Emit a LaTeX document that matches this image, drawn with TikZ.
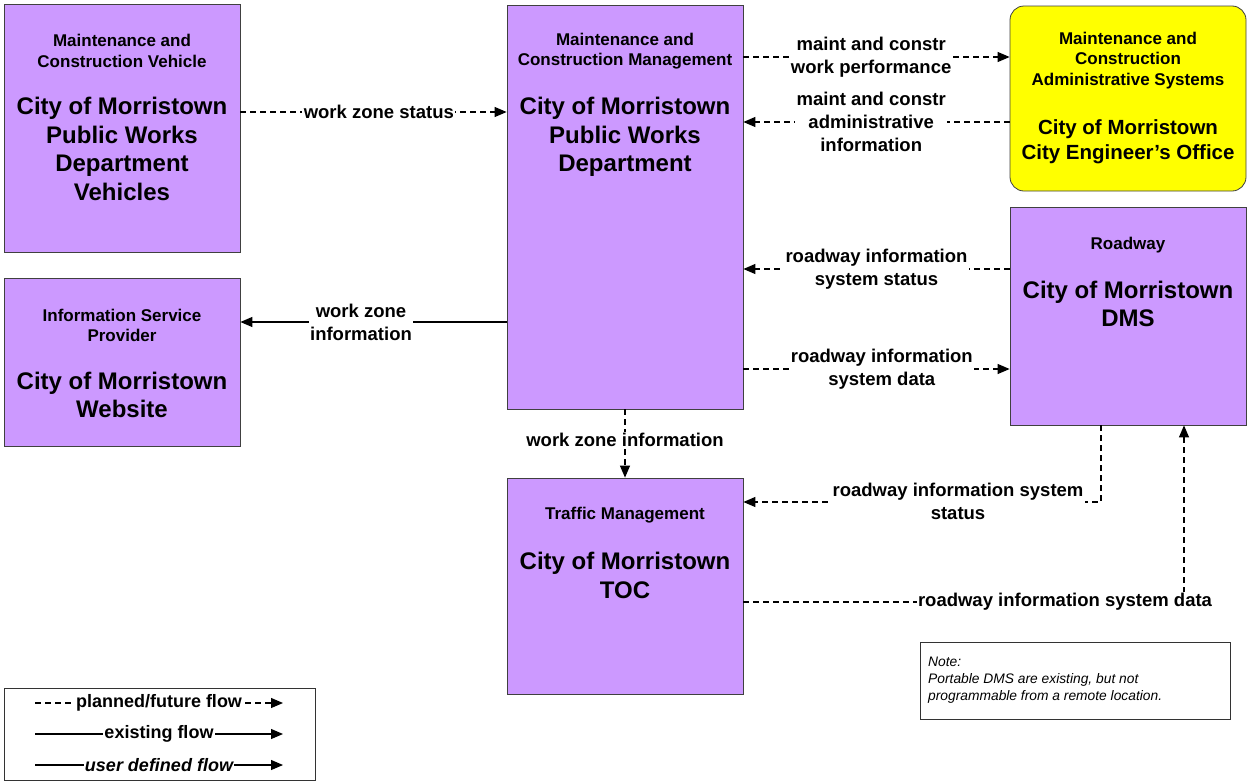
\documentclass[tikz,border=0pt]{standalone}
\usepackage{fontspec}
\setmainfont{Liberation Sans}
\usetikzlibrary{arrows.meta}
\definecolor{boxpurple}{HTML}{CC99FF}
\definecolor{boxyellow}{HTML}{FFFF00}
\begin{document}
\begin{tikzpicture}[x=1pt,y=-1pt,
  sysbox/.style={draw=black!75, line width=0.8pt, fill=boxpurple, minimum width=236pt, inner sep=0pt},
  hdr/.style={font=\fontsize{17}{20.5}\selectfont\bfseries, align=center, inner sep=0pt},
  big/.style={font=\fontsize{24}{28.7}\selectfont\bfseries, align=center, inner sep=0pt},
  lbl/.style={font=\fontsize{18.5}{23}\selectfont\bfseries, align=center, fill=white, inner sep=1.5pt},
  planned/.style={line width=1.2pt, dash pattern=on 6pt off 4pt, -{Triangle[length=12pt,width=10pt]}},
  existing/.style={line width=1.2pt, -{Triangle[length=12pt,width=10pt]}}]
\useasboundingbox (0,0) rectangle (1247,782);
\fill[white] (0,0) rectangle (1247,782);

% boxes
\node[sysbox, minimum height=248pt] (A) at (122,128) {};
\node[hdr] (Ah) at (122,51) {Maintenance and\\Construction Vehicle};
\node[big] (At) at (122,149) {City of Morristown\\Public Works\\Department\\Vehicles};

\node[sysbox, minimum height=404pt] (B) at (625,207) {};
\node[hdr] (Bh) at (625,51) {Maintenance and\\Construction Management};
\node[big] (Bt) at (625,137) {City of Morristown\\Public Works\\Department};

\node[sysbox, fill=boxyellow, rounded corners=14pt, minimum height=185pt] (C) at (1128,98.5) {};
\node[hdr] (Ch) at (1128,60.5) {Maintenance and\\Construction\\Administrative Systems};
\node[big, font=\fontsize{20.5}{25}\selectfont\bfseries] (Ct) at (1128,141.5) {City of Morristown\\City Engineer’s Office};

\node[sysbox, minimum height=168pt] (D) at (122,362) {};
\node[hdr] (Dh) at (122,325.5) {Information Service\\Provider};
\node[big] (Dt) at (122,395) {City of Morristown\\Website};

\node[sysbox, minimum height=218pt] (E) at (1128,316) {};
\node[hdr] (Eh) at (1128,245) {Roadway};
\node[big] (Et) at (1128,304) {City of Morristown\\DMS};

\node[sysbox, minimum height=216pt] (F) at (625,586) {};
\node[hdr] (Fh) at (625,515) {Traffic Management};
\node[big] (Ft) at (625,575.5) {City of Morristown\\TOC};

% flows
\draw[planned] (A.east |- 0,112) -- node[lbl, pos=0.52]{work zone status} (B.west |- 0,112);
\draw[planned] (B.east |- 0,57) -- node[lbl, pos=0.48]{maint and constr\\work performance} (C.west |- 0,57);
\draw[planned] (C.west |- 0,122) -- node[lbl, pos=0.52]{maint and constr\\administrative\\information} (B.east |- 0,122);
\draw[planned] (E.west |- 0,269) -- node[lbl, pos=0.5]{roadway information\\system status} (B.east |- 0,269);
\draw[planned] (B.east |- 0,369) -- node[lbl, pos=0.52]{roadway information\\system data} (E.west |- 0,369);
\draw[existing] (B.west |- 0,322) -- node[lbl, pos=0.547]{work zone\\information} (D.east |- 0,322);
\draw[planned] (B.south) -- node[lbl, pos=0.45]{work zone information} (F.north);
\coordinate (c1) at (1101,502);
\draw[planned] (E.south -| c1) -- (c1) -- (F.east |- c1);
\node[lbl] (l8) at (958,501) {roadway information system\\status};
\coordinate (c2) at (1184,602);
\draw[planned] (F.east |- c2) -- (c2) -- (E.south -| c2);
\node[lbl] (l9) at (1065,602) {roadway information system data};

% note
\node[draw=black!80, line width=0.8pt, minimum width=310pt, minimum height=77pt, anchor=north west, inner sep=0pt] (note) at (920,642) {};
\node[anchor=north west, align=left, inner sep=0pt, font=\fontsize{13.8}{17}\selectfont\itshape] (notetext) at (928,657) {Note:\\Portable DMS are existing, but not\\programmable from a remote location.};

% legend
\node[draw=black!80, line width=0.8pt, minimum width=311pt, minimum height=92pt, inner sep=0pt] (legend) at (159.5,734) {};
\coordinate (l1s) at (35,703); \coordinate (l1e) at (283,703);
\coordinate (l2s) at (35,734); \coordinate (l2e) at (283,734);
\coordinate (l3s) at (35,765); \coordinate (l3e) at (283,765);
\draw[planned] (l1s) -- node[lbl, inner sep=1pt, font=\fontsize{18}{22}\selectfont\bfseries]{planned/future flow} (l1e);
\draw[existing] (l2s) -- node[lbl, inner sep=1pt, font=\fontsize{18}{22}\selectfont\bfseries]{existing flow} (l2e);
\draw[existing] (l3s) -- node[lbl, inner sep=1pt, font=\fontsize{18}{22}\selectfont\bfseries\itshape]{user defined flow} (l3e);
\end{tikzpicture}
\end{document}
